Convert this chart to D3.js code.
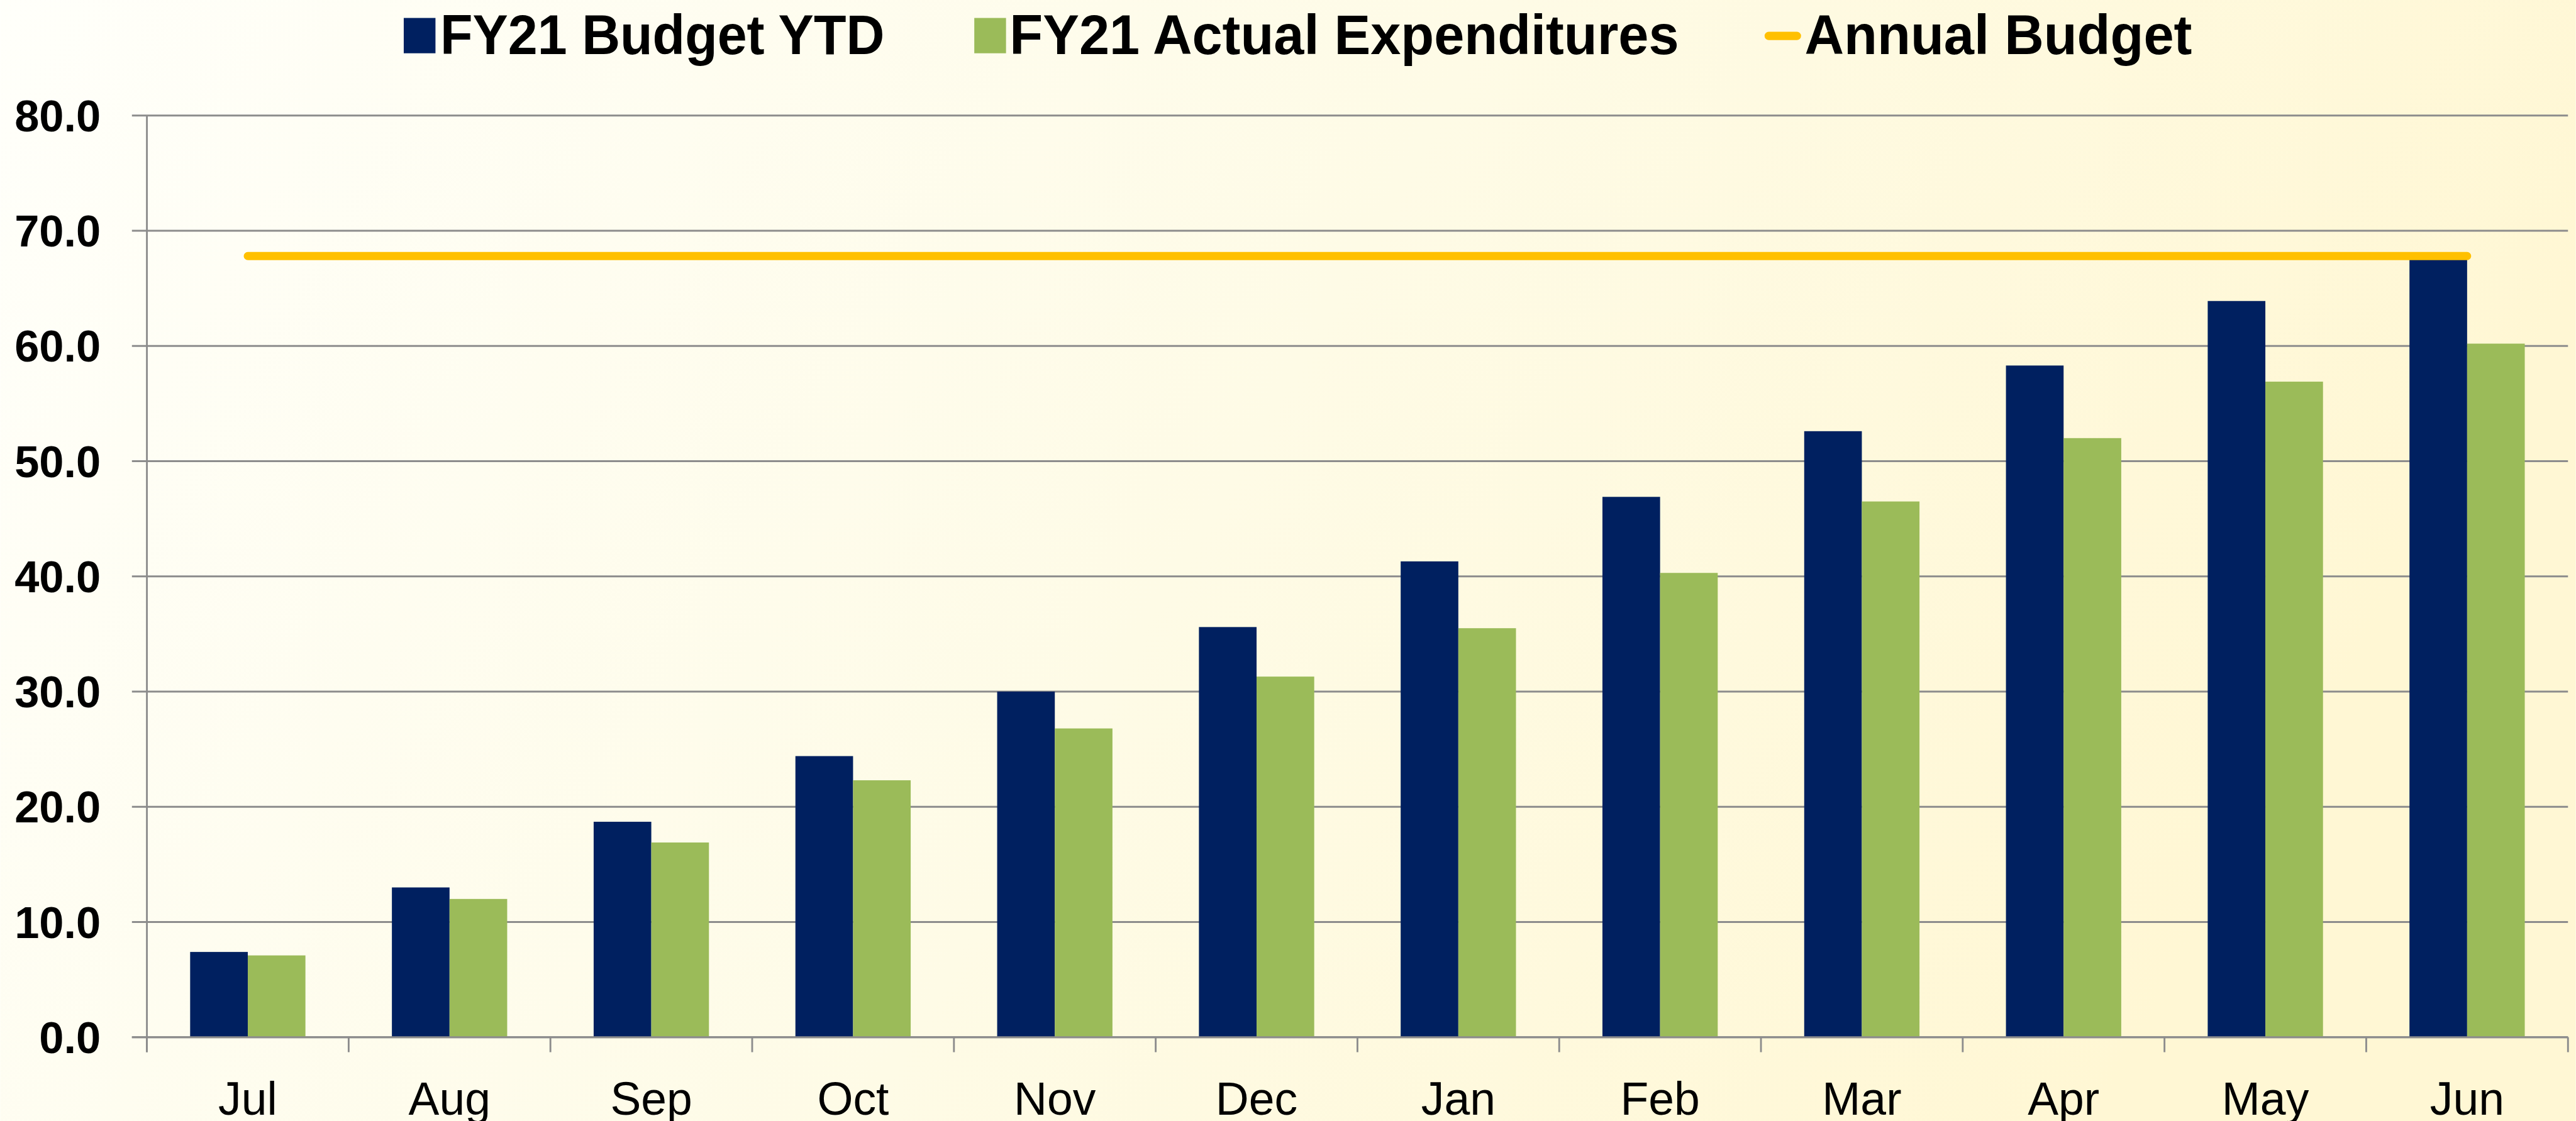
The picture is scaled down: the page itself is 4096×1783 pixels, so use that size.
<!DOCTYPE html>
<html>
<head>
<meta charset="utf-8">
<script src="https://cdn.jsdelivr.net/npm/d3@7/dist/d3.min.js"></script>
<style>
  body { margin: 0; overflow: hidden; background: #fff; }
  text { font-family: 'Liberation Sans', Arial, sans-serif; fill: #000; }
</style>
</head>
<body>
<script>
var months = ['Jul', 'Aug', 'Sep', 'Oct', 'Nov', 'Dec',
              'Jan', 'Feb', 'Mar', 'Apr', 'May', 'Jun'];
var budgetYTD = [7.4, 13.0, 18.7, 24.4, 30.0, 35.6, 41.3, 46.9, 52.6, 58.3, 63.9, 67.8];
var actualExp = [7.1, 12.0, 16.9, 22.3, 26.8, 31.3, 35.5, 40.3, 46.5, 52.0, 56.9, 60.2];
var annualBudget = [67.8, 67.8, 67.8, 67.8, 67.8, 67.8, 67.8, 67.8, 67.8, 67.8, 67.8, 67.8];
var yTicks = [0, 10, 20, 30, 40, 50, 60, 70, 80];
var seriesNames = ['FY21 Budget YTD', 'FY21 Actual Expenditures', 'Annual Budget'];
var seriesColors = ['#002060', '#9BBB59', '#FFC000'];

// everything is laid out in the reference's own pixel space, then the viewBox shrinks it
var W = 4302, H = 1873;
var plotLeft = 245, plotRight = 4289, plotTop = 193, plotBottom = 1733;

var svg = d3.select('body')
  .append('svg')
  .attr('width', 4096)
  .attr('height', 1783)
  .attr('viewBox', '0 0 ' + W + ' ' + H);

var grad = svg.append('defs').append('linearGradient')
  .attr('id', 'bg')
  .attr('x1', 0).attr('y1', 0)
  .attr('x2', 1).attr('y2', 0.25);
grad.append('stop').attr('offset', 0).attr('stop-color', '#FFFFFA');
grad.append('stop').attr('offset', 0.55).attr('stop-color', '#FEFBE6');
grad.append('stop').attr('offset', 1).attr('stop-color', '#FFF7D4');

svg.append('rect')
  .attr('width', W).attr('height', H)
  .attr('fill', 'url(#bg)');

var x = d3.scaleBand().domain(months).range([plotLeft, plotRight]).padding(0);
var xs = d3.scaleBand().domain([0, 1]).range([0, x.bandwidth()])
  .paddingInner(0).paddingOuter(0.75);
var y = d3.scaleLinear().domain([0, 80]).range([plotBottom, plotTop]);

// gridlines (with the outside tick marks)
svg.append('g').selectAll('line').data(yTicks)
  .enter()
  .append('line')
  .attr('x1', plotLeft - 25).attr('x2', plotRight)
  .attr('y1', function (d) { return y(d); })
  .attr('y2', function (d) { return y(d); })
  .attr('stroke', '#8C8C8C')
  .attr('stroke-width', 3);

// y labels
svg.append('g').selectAll('text').data(yTicks)
  .enter()
  .append('text')
  .text(function (d) { return d3.format('.1f')(d); })
  .attr('x', 168)
  .attr('y', function (d) { return y(d) + 26.5; })
  .attr('text-anchor', 'end')
  .attr('font-weight', 'bold')
  .attr('font-size', 74);

// bars
var groups = svg.append('g').selectAll('g').data(months)
  .enter()
  .append('g')
  .attr('transform', function (d) { return 'translate(' + x(d) + ',0)'; });

groups.selectAll('rect')
  .data(function (d, i) { return [budgetYTD[i], actualExp[i]]; })
  .enter()
  .append('rect')
  .attr('x', function (d, j) { return xs(j); })
  .attr('width', xs.bandwidth())
  .attr('y', function (d) { return y(d); })
  .attr('height', function (d) { return y(0) - y(d); })
  .attr('fill', function (d, j) { return seriesColors[j]; });

// axes lines
svg.append('line')
  .attr('x1', plotLeft - 25).attr('x2', plotRight)
  .attr('y1', y(0)).attr('y2', y(0))
  .attr('stroke', '#8C8C8C').attr('stroke-width', 3);
svg.append('line')
  .attr('x1', plotLeft).attr('x2', plotLeft)
  .attr('y1', plotTop).attr('y2', plotBottom + 25)
  .attr('stroke', '#8C8C8C').attr('stroke-width', 3);

var catEdges = months.map(function (m) { return x(m); }).concat([plotRight]);
svg.append('g').selectAll('line').data(catEdges)
  .enter()
  .append('line')
  .attr('x1', function (d) { return d; })
  .attr('x2', function (d) { return d; })
  .attr('y1', plotBottom).attr('y2', plotBottom + 25)
  .attr('stroke', '#8C8C8C').attr('stroke-width', 3);

// x labels
svg.append('g').selectAll('text').data(months)
  .enter()
  .append('text')
  .text(function (d) { return d; })
  .attr('x', function (d) { return x(d) + x.bandwidth() / 2; })
  .attr('y', 1862)
  .attr('text-anchor', 'middle')
  .attr('font-size', 77);

// annual budget line
var line = d3.line()
  .x(function (d, i) { return x(months[i]) + x.bandwidth() / 2; })
  .y(function (d) { return y(d); });

svg.append('path')
  .datum(annualBudget)
  .attr('d', line)
  .attr('fill', 'none')
  .attr('stroke', seriesColors[2])
  .attr('stroke-width', 13.5)
  .attr('stroke-linecap', 'round');

// legend
var legendX = [674, 1627, 2947];
var legendTextX = [735, 1686, 3014];
var legendTextW = [742, 1118, 647];

var legend = svg.append('g');
legend.selectAll('rect').data([0, 1])
  .enter()
  .append('rect')
  .attr('x', function (d) { return legendX[d]; })
  .attr('y', 30)
  .attr('width', 53)
  .attr('height', 59)
  .attr('fill', function (d) { return seriesColors[d]; });

legend.append('line')
  .attr('x1', legendX[2] + 7).attr('x2', legendX[2] + 54)
  .attr('y1', 60).attr('y2', 60)
  .attr('stroke', seriesColors[2])
  .attr('stroke-width', 14)
  .attr('stroke-linecap', 'round');

legend.selectAll('text').data(seriesNames)
  .enter()
  .append('text')
  .text(function (d) { return d; })
  .attr('x', function (d, i) { return legendTextX[i]; })
  .attr('y', 90)
  .attr('font-weight', 'bold')
  .attr('font-size', 93.5)
  .attr('textLength', function (d, i) { return legendTextW[i]; })
  .attr('lengthAdjust', 'spacingAndGlyphs');
</script>
</body>
</html>
